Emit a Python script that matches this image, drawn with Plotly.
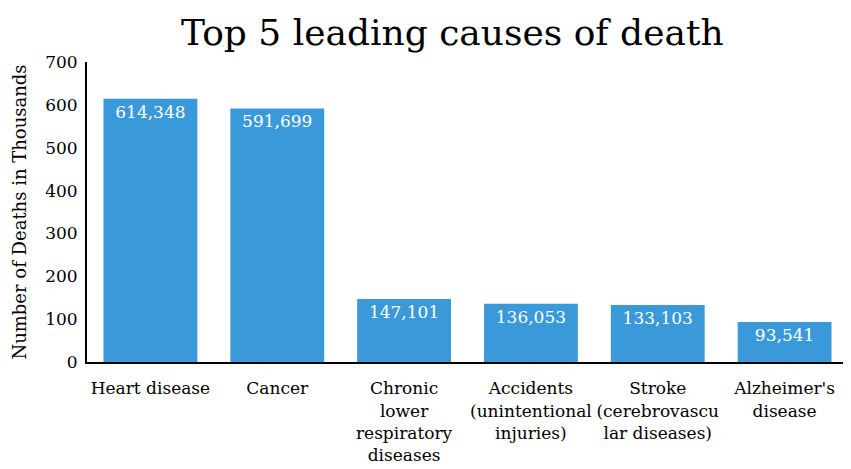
import plotly.graph_objects as go

categories = [
    "Heart disease",
    "Cancer",
    "Chronic<br>lower<br>respiratory<br>diseases",
    "Accidents<br>(unintentional<br>injuries)",
    "Stroke<br>(cerebrovascu<br>lar diseases)",
    "Alzheimer's<br>disease",
]
deaths = [614348, 591699, 147101, 136053, 133103, 93541]
deaths_thousands = [d / 1000 for d in deaths]
labels = [f"{d:,}" for d in deaths]
y_ticks = [0, 100, 200, 300, 400, 500, 600, 700]

FONT = "DejaVu Serif"

fig = go.Figure(
    go.Bar(
        x=categories,
        y=deaths_thousands,
        text=labels,
        textposition="inside",
        insidetextanchor="end",
        textfont=dict(family=FONT, size=17, color="white"),
        marker=dict(color="#3a9ad9", line=dict(width=0)),
        hoverinfo="skip",
    )
)

fig.update_layout(
    width=843,
    height=461,
    margin=dict(l=79, r=3, t=54, b=107),
    paper_bgcolor="white",
    plot_bgcolor="white",
    bargap=0.26,
    showlegend=False,
    font=dict(family=FONT, size=17, color="black"),
    title=dict(
        text="Top 5 leading causes of death",
        font=dict(family=FONT, size=36, color="black"),
        x=0.527,
        xanchor="center",
        y=0.946,
        yanchor="middle",
        yref="container",
    ),
    xaxis=dict(
        showline=True,
        linecolor="black",
        linewidth=2,
        showgrid=False,
        ticks="",
        tickangle=0,
        automargin=False,
        ticklabelstandoff=10,
        tickfont=dict(family=FONT, size=17, color="black"),
    ),
    yaxis=dict(
        range=[0, 700],
        tickvals=y_ticks,
        showline=True,
        linecolor="black",
        linewidth=2,
        showgrid=False,
        zeroline=False,
        ticks="",
        automargin=False,
        ticklabelstandoff=4,
        tickfont=dict(family=FONT, size=17, color="black"),
        title=dict(text="Number of Deaths in Thousands",
                   font=dict(family=FONT, size=18, color="black"),
                   standoff=14),
    ),
)

fig.write_html("out.html")
